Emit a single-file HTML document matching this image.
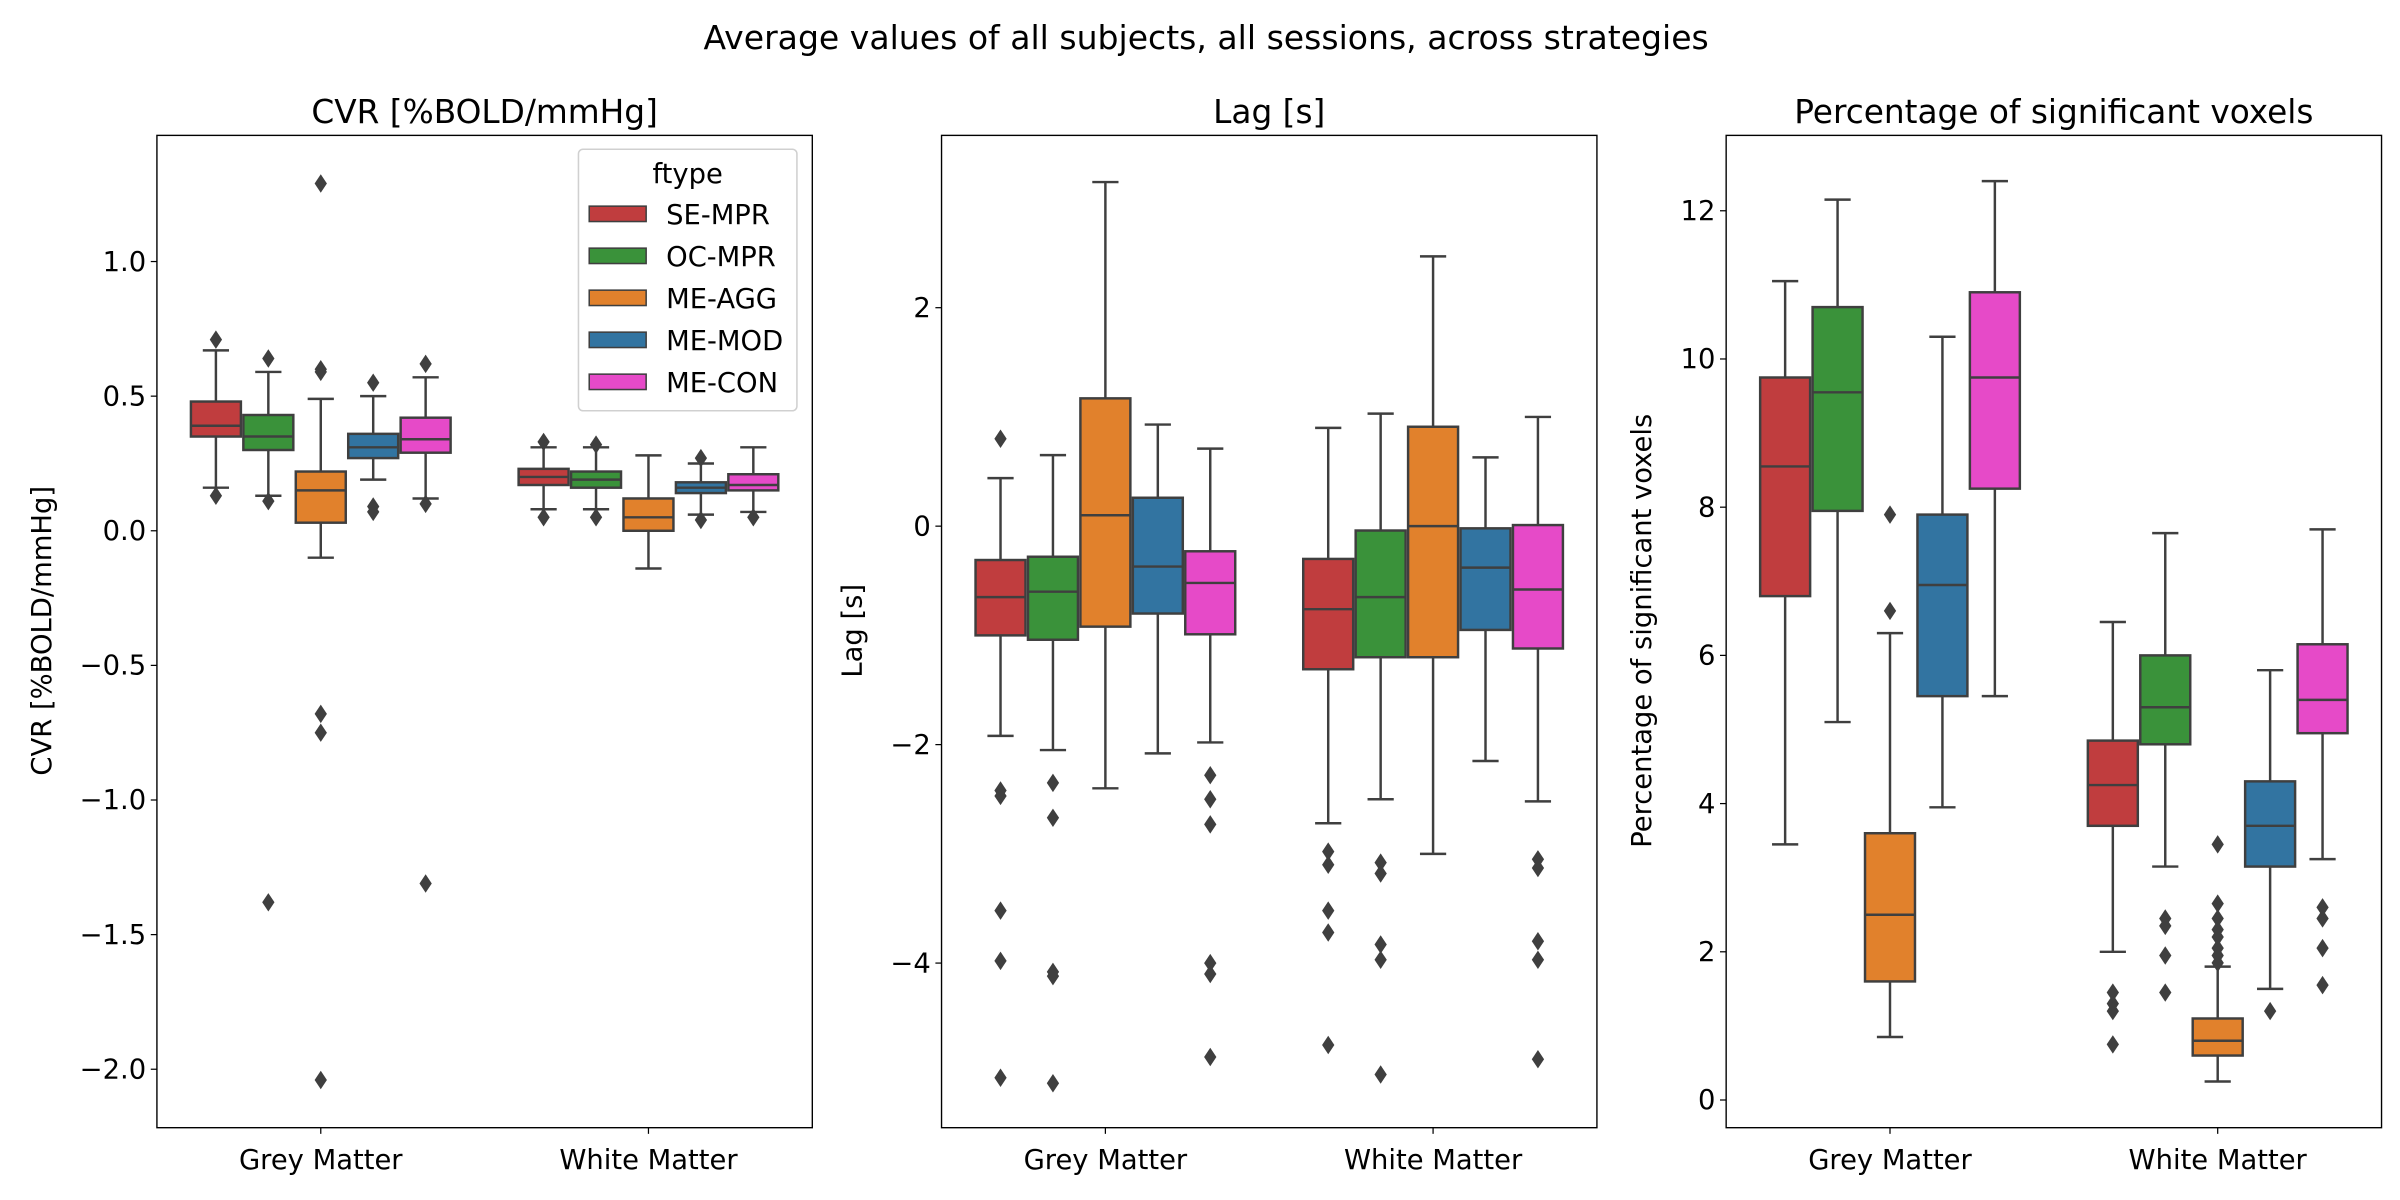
<!DOCTYPE html>
<html><head><meta charset="utf-8"><style>
html,body{margin:0;padding:0;background:#fff;}
svg{display:block;font-family:"DejaVu Sans","Liberation Sans",sans-serif;}
</style></head><body>
<svg id="chart" width="2400" height="1200" viewBox="0 0 1560 780" xmlns="http://www.w3.org/2000/svg">
<text x="784" y="32" font-size="21.5" text-anchor="middle" fill="#000">Average values of all subjects, all sessions, across strategies</text>
</svg>
<script>
const categories = ["Grey Matter","White Matter"];
const ftypes = ["SE-MPR","OC-MPR","ME-AGG","ME-MOD","ME-CON"];
const colors = ["#c03d3e","#3a923a","#e1812c","#3274a1","#e64ac8"];
// each box: [whiskerLow, q1, median, q3, whiskerHigh, outliers]
const cvrGrey = [[0.16,0.35,0.39,0.48,0.67,[0.71,0.13]],[0.13,0.30,0.35,0.43,0.59,[0.64,0.11,-1.38]],[-0.10,0.03,0.15,0.22,0.49,[0.60,0.59,1.29,-0.68,-0.75,-2.04]],[0.19,0.27,0.31,0.36,0.50,[0.55,0.09,0.07]],[0.12,0.29,0.34,0.42,0.57,[0.62,0.10,-1.31]]];
const cvrWhite = [[0.08,0.17,0.20,0.23,0.31,[0.33,0.05]],[0.08,0.16,0.19,0.22,0.31,[0.32,0.05]],[-0.14,0.0,0.05,0.12,0.28,[]],[0.06,0.14,0.16,0.18,0.25,[0.27,0.04]],[0.07,0.15,0.17,0.21,0.31,[0.05]]];
const lagGrey = [[-1.92,-1.0,-0.65,-0.31,0.44,[0.8,-2.42,-2.47,-3.52,-3.98,-5.05]],[-2.05,-1.04,-0.6,-0.28,0.65,[-2.35,-2.67,-4.08,-4.12,-5.1]],[-2.4,-0.92,0.1,1.17,3.15,[]],[-2.08,-0.8,-0.37,0.26,0.93,[]],[-1.98,-0.99,-0.52,-0.23,0.71,[-2.28,-2.5,-2.73,-4.0,-4.1,-4.86]]];
const lagWhite = [[-2.72,-1.31,-0.76,-0.3,0.9,[-2.98,-3.1,-3.52,-3.72,-4.75]],[-2.5,-1.2,-0.65,-0.04,1.03,[-3.08,-3.18,-3.83,-3.97,-5.02]],[-3.0,-1.2,0.0,0.91,2.47,[]],[-2.15,-0.95,-0.38,-0.02,0.63,[]],[-2.52,-1.12,-0.58,0.01,1.0,[-3.05,-3.13,-3.8,-3.97,-4.88]]];
const pctGrey = [[3.45,6.8,8.55,9.75,11.05,[]],[5.1,7.95,9.55,10.7,12.15,[]],[0.85,1.6,2.5,3.6,6.3,[6.6,7.9]],[3.95,5.45,6.95,7.9,10.3,[]],[5.45,8.25,9.75,10.9,12.4,[]]];
const pctWhite = [[2.0,3.7,4.25,4.85,6.45,[1.45,1.3,1.2,0.75]],[3.15,4.8,5.3,6.0,7.65,[2.45,2.35,1.95,1.45]],[0.25,0.6,0.8,1.1,1.8,[3.45,2.65,2.45,2.3,2.2,2.05,1.95,1.85]],[1.5,3.15,3.7,4.3,5.8,[1.2]],[3.25,4.95,5.4,6.15,7.7,[2.6,2.45,2.05,1.55]]];
const cvrTicks = [1.0,0.5,0.0,-0.5,-1.0,-1.5,-2.0];
const cvrTickLabels = ["1.0","0.5","0.0","\u22120.5","\u22121.0","\u22121.5","\u22122.0"];
const lagTicks = [2,0,-2,-4];
const lagTickLabels = ["2","0","\u22122","\u22124"];
const pctTicks = [12,10,8,6,4,2,0];
const pctTickLabels = ["12","10","8","6","4","2","0"];

const NS="http://www.w3.org/2000/svg";
const svg=document.getElementById('chart');
function mk(tag,attrs,parent){const e=document.createElementNS(NS,tag);for(const k in attrs)e.setAttribute(k,attrs[k]);(parent||svg).appendChild(e);return e;}
const TF=17.8, HF=21.3;
function panel(key,x0,title,ylabel,ylabX,yTop,yBot,vTop,vBot,ticks,tickLabels,data){
  const g=mk('g',{});
  
  
  const W=426, top=88, bot=733;
  const y=v=>yTop+(v-vTop)*(yBot-yTop)/(vBot-vTop);
  const catW=W/categories.length;
  const xc=i=>x0+catW*(i+0.5);
  const bw=catW*0.8/ftypes.length;
  ticks.forEach((t,i)=>{
    const tk=mk('line',{x1:x0-4,x2:x0,y1:y(t),y2:y(t),stroke:'#000','stroke-width':0.8},g);
    
    
    const tl=mk('text',{x:x0-7,y:y(t)+6,'font-size':TF,'text-anchor':'end',fill:'#000'},g);
    tl.textContent=tickLabels[i];
    
    
  });
  categories.forEach((c,i)=>{
    mk('line',{x1:xc(i),x2:xc(i),y1:bot,y2:bot+4,stroke:'#000','stroke-width':0.8},g);
    const tl=mk('text',{x:xc(i),y:bot+27,'font-size':TF,'text-anchor':'middle',fill:'#000'},g);
    tl.textContent=c;
    
    
  });
  data.forEach((boxes,ci)=>{
    boxes.forEach((b,fi)=>{
      const cx=xc(ci)-catW*0.4+bw*(fi+0.5);
      const bg=mk('g',{stroke:'#3f3f3f','stroke-width':1.6},g);
      
      
      mk('line',{x1:cx,x2:cx,y1:y(b[0]),y2:y(b[1])},bg);
      mk('line',{x1:cx,x2:cx,y1:y(b[3]),y2:y(b[4])},bg);
      mk('line',{x1:cx-bw/4,x2:cx+bw/4,y1:y(b[0]),y2:y(b[0])},bg);
      mk('line',{x1:cx-bw/4,x2:cx+bw/4,y1:y(b[4]),y2:y(b[4])},bg);
      mk('rect',{x:cx-bw/2+0.8,y:y(b[3]),width:bw-1.6,height:y(b[1])-y(b[3]),fill:colors[fi]},bg);
      mk('line',{x1:cx-bw/2+0.8,x2:cx+bw/2-0.8,y1:y(b[2]),y2:y(b[2])},bg);
      b[5].forEach(o=>{
        const yy=y(o);
        const d=mk('path',{d:`M${cx},${yy-6}L${cx+4},${yy}L${cx},${yy+6}L${cx-4},${yy}Z`,fill:'#3f3f3f',stroke:'none'},bg);
        
        
      });
    });
  });
  const fr=mk('rect',{x:x0,y:top,width:W,height:bot-top,fill:'none',stroke:'#000','stroke-width':0.9},g);
  
  
  const tt=mk('text',{x:x0+W/2,y:80,'font-size':HF,'text-anchor':'middle',fill:'#000'},g);
  tt.textContent=title;
  
  
  const yl=mk('text',{x:ylabX,y:410,'font-size':TF,'text-anchor':'middle',fill:'#000',transform:`rotate(-90 ${ylabX} 410)`},g);
  yl.textContent=ylabel;
  
  
}
panel('cvr',102,'CVR [%BOLD/mmHg]','CVR [%BOLD/mmHg]',33,170,695,1.0,-2.0,cvrTicks,cvrTickLabels,[cvrGrey,cvrWhite]);
panel('lag',612,'Lag [s]','Lag [s]',560,200,626,2,-4,lagTicks,lagTickLabels,[lagGrey,lagWhite]);
panel('pct',1122,'Percentage of significant voxels','Percentage of significant voxels',1073,137,715,12,0,pctTicks,pctTickLabels,[pctGrey,pctWhite]);

const lg=mk('g',{});


mk('rect',{x:376,y:97,width:142,height:170,rx:3,fill:'#fff','fill-opacity':0.8,stroke:'#d0d0d0','stroke-width':1},lg);
const lt=mk('text',{x:447,y:119,'font-size':TF,'text-anchor':'middle',fill:'#000'},lg);
lt.textContent='ftype';


ftypes.forEach((f,i)=>{
  const yy=140+i*27.3;
  const e=mk('g',{},lg);
  
  
  mk('rect',{x:383,y:yy-6,width:37,height:10,fill:colors[i],stroke:'#3f3f3f','stroke-width':1},e);
  const t=mk('text',{x:433,y:yy+5.5,'font-size':TF,fill:'#000'},e);
  t.textContent=f;
});
</script>
</body></html>
